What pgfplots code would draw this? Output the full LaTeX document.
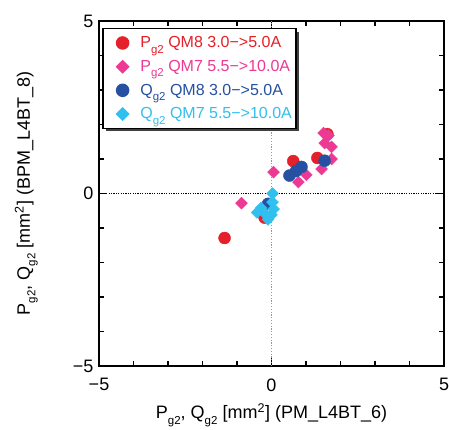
\documentclass[border=0pt]{standalone}
\usepackage{fontspec}
\setmainfont{Liberation Sans}
\usepackage{pgfplots}
\pgfplotsset{compat=1.18}
\usetikzlibrary{shadows}
\definecolor{cRed}{HTML}{E5202A}
\definecolor{cPink}{HTML}{EC3A94}
\definecolor{cBlue}{HTML}{2650A2}
\definecolor{cCyan}{HTML}{30C0F0}
\newcommand\sub[1]{\raisebox{-5.5pt}{\fontsize{11.5}{11.5}\selectfont #1}}

\begin{document}
\begin{tikzpicture}
\begin{axis}[
  scale only axis, width=345pt, height=345pt,
  xmin=-5, xmax=5, ymin=-5, ymax=5,
  xtick={-5,0,5}, ytick={-5,0,5},
  xticklabels={−5,0,5}, yticklabels={−5,0,5},
  minor xtick={-4,-3,-2,-1,1,2,3,4}, minor ytick={-4,-3,-2,-1,1,2,3,4},
  tick align=inside, major tick length=8pt, minor tick length=5pt,
  axis line style={line width=1.5pt},
  every tick/.style={black, line width=1.2pt},
  tick label style={font=\fontsize{18}{21}\selectfont},
  xticklabel style={yshift=-9pt},
  yticklabel style={xshift=-2pt},
  label style={font=\fontsize{18}{21}\selectfont},
  xlabel={P\sub{g2}, Q\sub{g2} [mm\textsuperscript{2}] (PM\_L4BT\_6)},
  ylabel={P\sub{g2}, Q\sub{g2} [mm\textsuperscript{2}] (BPM\_L4BT\_8)},
  xlabel style={at={(axis description cs:0.5,-0.153)}, anchor=base},
  ylabel style={at={(axis description cs:-0.2,0.5)}, anchor=base},
  legend style={at={(axis description cs:0.009,0.98)}, anchor=north west,
    draw=black, line width=1.5pt, fill=white,
    drop shadow={shadow xshift=3pt, shadow yshift=-3pt, fill=black!75, opacity=1},
    font=\fontsize{16}{19}\selectfont, row sep=7pt, inner xsep=2pt, inner ysep=6pt,
    nodes={inner xsep=2pt}},
  legend image code/.code={\path (0pt,0pt) (32pt,0pt); \draw[#1] plot coordinates {(17pt,0pt)};},
  legend cell align=left,
]
\addplot[forget plot, black, line width=1.6pt, dash pattern=on 1.2pt off 1.2pt] coordinates {(-5,0)(5,0)};
\addplot[forget plot, black!40, line width=0.8pt, dash pattern=on 1.2pt off 1.6pt] coordinates {(0,-5)(0,5)};

\addplot[only marks, mark=*, mark size=6pt, cRed, mark options={draw=none, fill=cRed}]
  coordinates {(-1.36,-1.29)(0.63,0.94)(1.33,1.03)(1.62,1.72)(-0.2,-0.7)};
\addlegendentry{\textcolor{cRed}{P\sub{g2} QM8 3.0−>5.0A}}

\addplot[only marks, mark=square*, mark size=4.2pt, cPink, mark options={draw=none, fill=cPink, rotate=45}]
  coordinates {(-0.87,-0.28)(0.06,0.62)(0.78,0.33)(1.01,0.54)(1.45,0.71)(1.51,1.75)(1.65,1.68)(1.54,1.46)(1.74,1.35)(1.74,1.0)};
\addlegendentry{\textcolor{cPink}{P\sub{g2} QM7 5.5−>10.0A}}

\addplot[only marks, mark=*, mark size=6pt, cBlue, mark options={draw=none, fill=cBlue}]
  coordinates {(-0.1,-0.30)(0.52,0.52)(0.71,0.65)(0.87,0.77)(1.54,0.95)};
\addlegendentry{\textcolor{cBlue}{Q\sub{g2} QM8 3.0−>5.0A}}

\addplot[only marks, mark=square*, mark size=4.2pt, cCyan, mark options={draw=none, fill=cCyan, rotate=45}]
  coordinates {(0.03,0.0)(0.03,-0.25)(0.06,-0.45)(-0.3,-0.42)(-0.42,-0.55)(-0.15,-0.62)(-0.1,-0.75)(0.0,-0.62)};
\addlegendentry{\textcolor{cCyan}{Q\sub{g2} QM7 5.5−>10.0A}}
\end{axis}
\pgfresetboundingbox
\path (current axis.south west) ++(-99pt,-64pt) rectangle ++(449pt,430pt);
\end{tikzpicture}
\end{document}
